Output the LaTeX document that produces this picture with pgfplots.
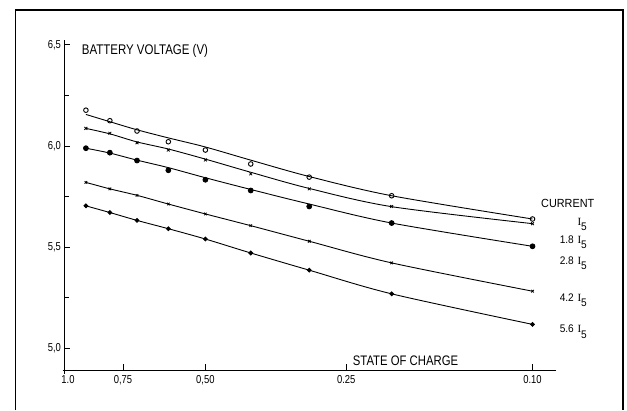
\documentclass[border=0pt]{standalone}
\usepackage{pgfplots}
\pgfplotsset{compat=1.18}
\usepackage{fontspec}
\setmainfont{Liberation Sans}
\newfontfamily\lab{Liberation Sans}[FakeStretch=0.82]
\newfontfamily\labw{Liberation Sans}[FakeStretch=0.92]
\newfontfamily\serI{Liberation Serif}
\newcommand{\Ifive}{{\serI I}\raisebox{-5pt}{5}}
\newcommand{\lsz}{\labw\fontsize{11}{11}\selectfont}
\begin{document}
\begin{tikzpicture}
\useasboundingbox (0pt,0pt) rectangle (627pt,410pt);
\fill[white] (0pt,0pt) rectangle (627pt,410pt);
\draw[line width=1.8pt] (15.5pt,0pt) -- (15.5pt,400pt) -- (622.7pt,400pt) -- (622.7pt,0pt);
\draw[line width=1.6pt] (62.5pt,39.5pt) -- (556pt,39.5pt);
\draw[line width=1.6pt] (64.5pt,39.5pt) -- (64.5pt,370pt);
\draw[line width=0.8pt] (64.5pt,39.5pt) -- (64.5pt,35.5pt);
\begin{axis}[
  at={(64.5pt,39.5pt)}, anchor=south west, scale only axis,
  width=491.5pt, height=330.5pt,
  xmode=log, x dir=reverse,
  xmin=0.0891, xmax=1, ymin=4.890, ymax=6.524,
  axis x line*=bottom, axis y line*=left,
  axis line style={draw=black, line width=1.2pt},
  clip=false,
  xtick={1,0.75,0.5,0.25,0.1},
  xticklabels={{\hspace*{7pt}1.0},{0,75},{0,50},0.25,0.10},
  ytick={5,5.5,6,6.5},
  yticklabels={{5,0},{5,5},{6,0},{6,5}},
  minor ytick={5.25,5.75,6.25},
  tick align=inside,
  major tick length=6pt, minor tick length=5pt,
  every tick/.style={black, line width=0.8pt},
  tick label style={font=\lab\fontsize{11.5}{11.5}\selectfont},
  xticklabel style={yshift=-1pt},
  every axis plot/.append style={black, line width=0.9pt},
]
% fitted curves
\addplot[smooth, no marks] coordinates {(0.9,6.156)(0.8,6.120)(0.7,6.080)(0.6,6.040)(0.5,5.995)(0.4,5.930)(0.3,5.849)(0.2,5.754)(0.1,5.639)};
\addplot[smooth, no marks] coordinates {(0.9,6.087)(0.8,6.060)(0.7,6.020)(0.6,5.985)(0.5,5.935)(0.4,5.870)(0.3,5.790)(0.2,5.700)(0.1,5.616)};
\addplot[smooth, no marks] coordinates {(0.9,5.989)(0.8,5.965)(0.7,5.930)(0.6,5.893)(0.5,5.843)(0.4,5.785)(0.3,5.713)(0.2,5.619)(0.1,5.504)};
\addplot[smooth, no marks] coordinates {(0.9,5.820)(0.8,5.788)(0.7,5.756)(0.6,5.713)(0.5,5.664)(0.4,5.606)(0.3,5.529)(0.2,5.422)(0.1,5.282)};
\addplot[smooth, no marks] coordinates {(0.9,5.704)(0.8,5.671)(0.7,5.632)(0.6,5.591)(0.5,5.540)(0.4,5.471)(0.3,5.386)(0.2,5.269)(0.1,5.118)};
% measured points
\addplot[only marks, mark=o, mark size=2.3pt, mark options={line width=0.9pt}] coordinates {(0.9,6.177)(0.8,6.125)(0.7,6.074)(0.6,6.021)(0.5,5.980)(0.4,5.911)(0.3,5.846)(0.2,5.754)(0.1,5.639)};
\addplot[only marks, mark=x, mark size=2pt, mark options={line width=0.8pt}] coordinates {(0.9,6.087)(0.8,6.063)(0.7,6.016)(0.6,5.980)(0.5,5.931)(0.4,5.862)(0.3,5.788)(0.2,5.701)(0.1,5.616)};
\addplot[only marks, mark=*, mark size=2.4pt] coordinates {(0.9,5.989)(0.8,5.967)(0.7,5.928)(0.6,5.880)(0.5,5.833)(0.4,5.780)(0.3,5.701)(0.2,5.619)(0.1,5.504)};
\addplot[only marks, mark=x, mark size=1.8pt, mark options={line width=0.8pt}] coordinates {(0.9,5.820)(0.8,5.788)(0.7,5.756)(0.6,5.713)(0.5,5.664)(0.4,5.606)(0.3,5.529)(0.2,5.422)(0.1,5.282)};
\addplot[only marks, mark=*, mark size=1.9pt] coordinates {(0.9,5.704)(0.8,5.671)(0.7,5.632)(0.6,5.591)(0.5,5.540)(0.4,5.471)(0.3,5.386)(0.2,5.269)(0.1,5.118)};
\end{axis}
\node[anchor=base west, inner sep=0pt] at (81.7pt,355.7pt) {\lab\fontsize{14}{14}\selectfont BATTERY VOLTAGE (V)};
\node[anchor=base west, inner sep=0pt] at (352.7pt,45pt) {\lab\fontsize{13.8}{14}\selectfont STATE OF CHARGE};
\node[anchor=base west, inner sep=0pt] at (541pt,202pt) {\labw\fontsize{11.8}{12}\selectfont CURRENT};
\node[anchor=base east, inner sep=0pt] at (587pt,184pt) {\lsz\Ifive};
\node[anchor=base east, inner sep=0pt] at (587pt,166.7pt) {\lsz 1.8\,\,\Ifive};
\node[anchor=base east, inner sep=0pt] at (587pt,145pt) {\lsz 2.8\,\,\Ifive};
\node[anchor=base east, inner sep=0pt] at (587pt,108.3pt) {\lsz 4.2\,\,\Ifive};
\node[anchor=base east, inner sep=0pt] at (587pt,77pt) {\lsz 5.6\,\,\Ifive};
\end{tikzpicture}
\end{document}
